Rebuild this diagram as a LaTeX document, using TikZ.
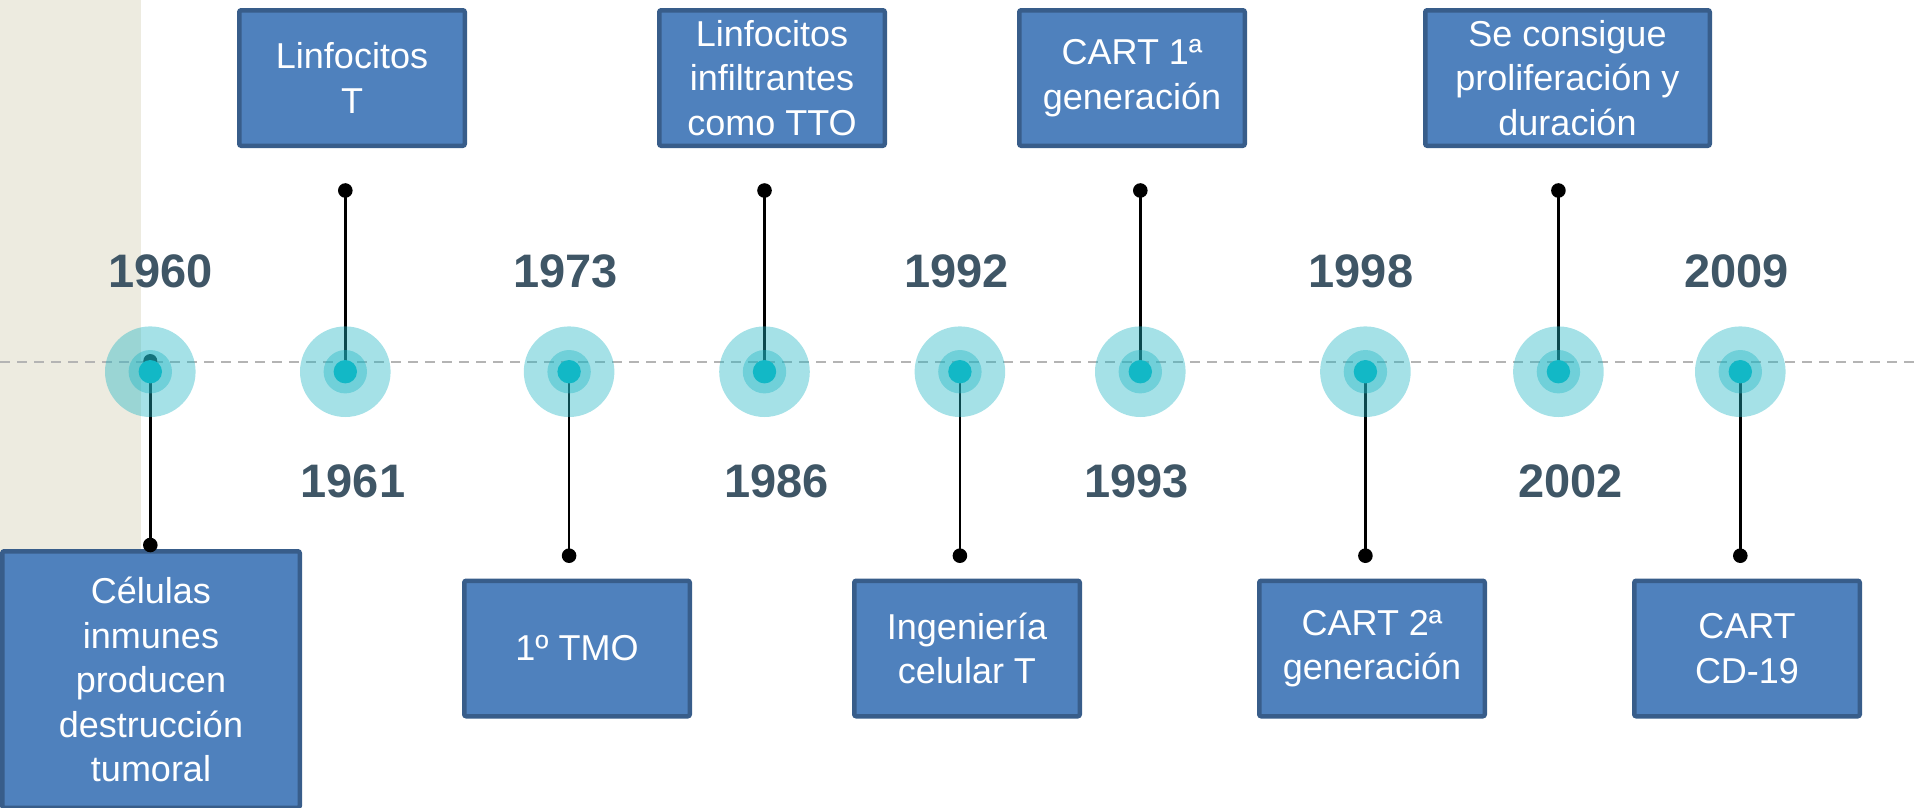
\documentclass[tikz,border=0pt]{standalone}
\usepackage{fontspec}
\setmainfont{Liberation Sans}
\definecolor{beige}{RGB}{237,235,224}
\definecolor{boxfill}{RGB}{79,129,189}
\definecolor{boxline}{RGB}{56,93,138}
\definecolor{ringcol}{RGB}{31,181,195}
\definecolor{corecol}{RGB}{18,184,198}
\definecolor{yearcol}{RGB}{63,86,102}
\definecolor{dashcol}{RGB}{180,180,180}
\begin{document}
\begin{tikzpicture}[x=1pt,y=-1pt,
  box/.style={draw=boxline, fill=boxfill, line width=4.5pt, rounded corners=2pt, inner sep=0pt,
    align=center, text=white, font=\fontsize{36}{44.5}\selectfont,
    minimum width=225.5pt, minimum height=135.5pt},
  year/.style={text=yearcol, font=\fontsize{47}{50}\selectfont\bfseries, inner sep=0pt, anchor=center},
  stem/.style={line width=2.4pt, draw=black},
  ringout/.style={circle, inner sep=0pt, fill=ringcol, fill opacity=0.4, draw=none, minimum size=90.6pt},
  ringmid/.style={circle, inner sep=0pt, fill=ringcol, fill opacity=0.4, draw=none, minimum size=43.4pt},
  core/.style={circle, inner sep=0pt, fill=corecol, draw=none, minimum size=23.4pt},
  dashline/.style={draw=dashcol, line width=2.4pt, dash pattern=on 10pt off 7pt},
]
\useasboundingbox (0,0) rectangle (1915,807);
% background stripe
\fill[beige] (0,0) rectangle (141,807);
% timeline
\coordinate (lineL) at (0,362);
\coordinate (lineR) at (1915,362);
\draw[dashline] (lineL) -- (lineR);

% event positions
\coordinate (p1) at (150.3,371.7);
\coordinate (p2) at (345.3,371.7);
\coordinate (p3) at (569.1,371.7);
\coordinate (p4) at (764.5,371.7);
\coordinate (p5) at (959.9,371.7);
\coordinate (p6) at (1140.3,371.7);
\coordinate (p7) at (1365.4,371.7);
\coordinate (p8) at (1558.4,371.7);
\coordinate (p9) at (1740.3,371.7);

% stem ends
\coordinate (s1) at (150.3,361);
\coordinate (d1) at (150.3,545);
\coordinate (d2) at (345.3,190.5);
\coordinate (d3) at (569.1,555.7);
\coordinate (d4) at (764.5,190.5);
\coordinate (d5) at (959.9,555.7);
\coordinate (d6) at (1140.3,190.5);
\coordinate (d7) at (1365.4,555.7);
\coordinate (d8) at (1558.4,190.5);
\coordinate (d9) at (1740.3,555.7);

% boxes
\node[box, minimum width=297.5pt, minimum height=256.5pt] (b1) at (151,679.5)
  {Células\\inmunes\\producen\\destrucción\\tumoral};
\node[box] (b2) at (352,78) {Linfocitos\\T};
\node[box] (b3) at (577,648.5) {1º TMO};
\node[box] (b4) at (772,78) {Linfocitos\\infiltrantes\\como TTO};
\node[box] (b5) at (967,648.5) {Ingeniería\\celular T};
\node[box] (b6) at (1132,78) {CART 1ª\\generación};
\node[box] (b7) at (1372,648.5) {CART 2ª\\generación};
\node[box, minimum width=284.5pt] (b8) at (1567.5,78) {Se consigue\\proliferación y\\duración};
\node[box] (b9) at (1747,648.5) {CART\\CD-19};

% stems with dots
\draw[stem] (s1) -- (d1);
\fill (s1) circle (7pt);
\foreach \i in {1,...,9}{
  \draw[stem] (p\i) -- (d\i);
  \fill (d\i) circle (7.3pt);
}

% circles
\foreach \i in {1,...,9}{
  \node[ringout] (c\i o) at (p\i) {};
  \node[ringmid] (c\i m) at (p\i) {};
  \node[core] (c\i) at (p\i) {};
}

% years
\node[year] (y1) at (160.6,271.7) {1960};
\node[year] (y2) at (353,481) {1961};
\node[year] (y3) at (565.5,271.7) {1973};
\node[year] (y4) at (776.7,481) {1986};
\node[year] (y5) at (956.3,271.7) {1992};
\node[year] (y6) at (1136.4,481) {1993};
\node[year] (y7) at (1361,271.7) {1998};
\node[year] (y8) at (1570.8,481) {2002};
\node[year] (y9) at (1736.3,271.7) {2009};
\end{tikzpicture}
\end{document}
